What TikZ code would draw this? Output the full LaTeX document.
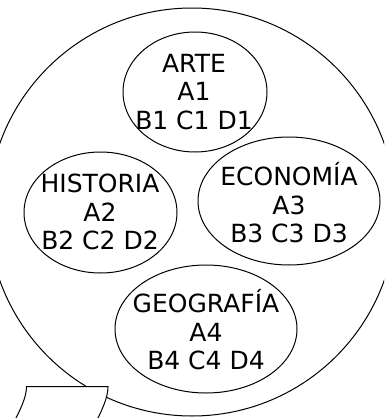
\documentclass[tikz,border=0pt]{standalone}
\usepackage{fontspec}
\setmainfont{DejaVu Sans}
\newcommand{\tema}[2]{#1\\A#2\\B#2 C#2 D#2}

\begin{document}
\begin{tikzpicture}[x=1pt,y=-1pt, line width=1pt,
    topic/.style={font=\fontsize{25}{28.5}\selectfont, align=center, inner sep=0pt}]
  \useasboundingbox (0,0) rectangle (384,418);
  \clip (0,0) rectangle (384,418);
  % big bubble
  \coordinate (mid) at (192,212);
  \draw (mid) circle (204);
  % tail of the bubble, cut by the border
  \draw[fill=white] (12,426) .. controls (20,410) and (26.5,398) .. (26.5,386.5)
    -- (108,386.5) .. controls (108,398) and (102,410) .. (94,426) -- cycle;
  % the four topics
  \node[topic] (arte) at (194,92) {\tema{ARTE}{1}};
  \draw (195,92) ellipse [x radius=72, y radius=60];
  \node[topic] (historia) at (100,212) {\tema{HISTORIA}{2}};
  \draw (100.5,212.5) ellipse [x radius=76.5, y radius=60.5];
  \node[topic] (economia) at (289,203) {\tema{ECONOMÍA}{3}};
  \draw (289,201) ellipse [x radius=91, y radius=64];
  \node[topic] (geografia) at (206,330) {\tema{GEOGRAFÍA}{4}};
  \draw (206,329) ellipse [x radius=91, y radius=64];
\end{tikzpicture}
\end{document}
